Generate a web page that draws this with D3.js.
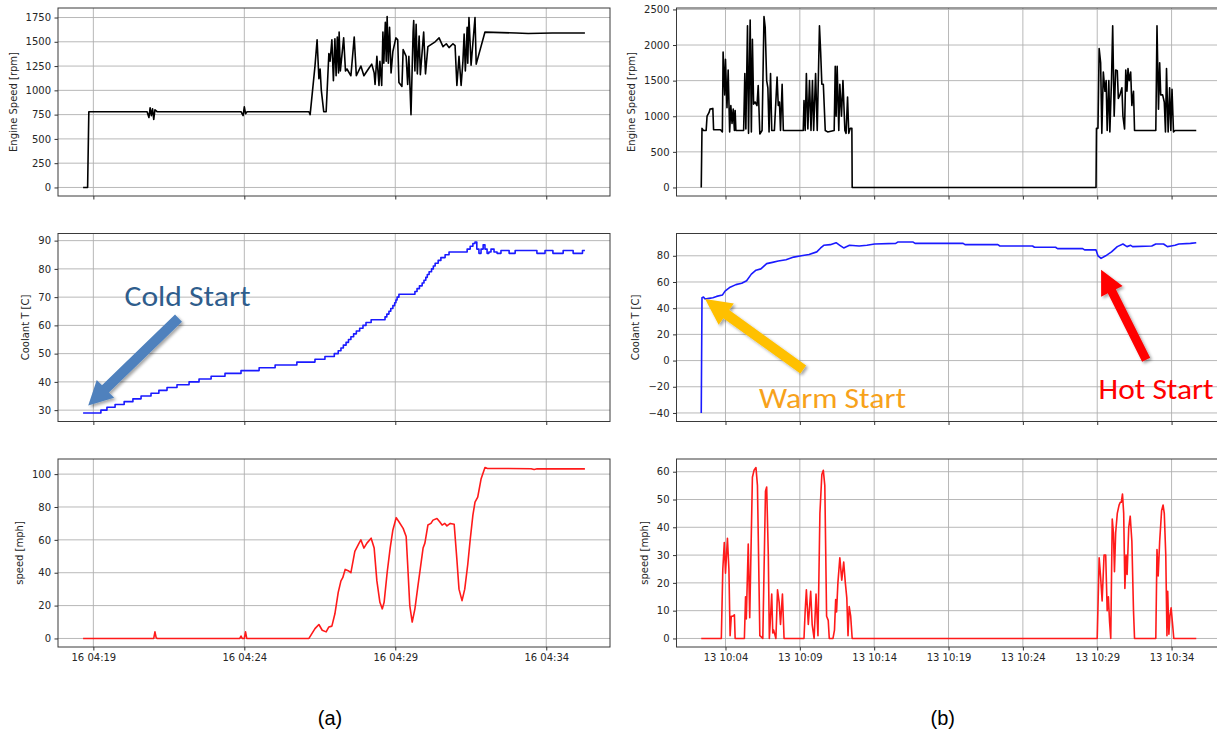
<!DOCTYPE html>
<html>
<head>
<meta charset="utf-8">
<title>Cold, warm and hot engine starts</title>
<style>
  body { margin: 0; background: #fff; }
  svg text { font-family: "DejaVu Sans", sans-serif; }
</style>
</head>
<body>
<svg id="chart" width="1217" height="731"></svg>
<script src="https://d3js.org/d3.v7.min.js"></script>
<script>
// (a) trip on the 16th, times are minutes after 04:00
let aRpm = [[18.66,0],[18.81,0],[18.85,780],[20.78,780],[20.84,720],[20.88,820],[20.92,740],[20.96,810],[21.00,700],[21.04,800],[21.11,780],
  [23.89,780],[23.96,740],[24.00,830],[24.04,760],[24.09,780],[26.14,780],[26.18,750],[26.34,1250],[26.41,1520],[26.47,1120],[26.51,1220],
  [26.55,1000],[26.63,780],[26.71,780],[26.80,1380],[26.84,1300],[26.90,1520],[26.95,1100],[27.00,1530],[27.04,1150],[27.08,1550],[27.12,1180],
  [27.14,1600],[27.18,1200],[27.29,1540],[27.35,1200],[27.40,1220],[27.53,1150],[27.64,1550],[27.71,1150],[27.86,1250],[27.96,1150],[28.13,1230],
  [28.22,1270],[28.30,1180],[28.33,1060],[28.39,1350],[28.46,1050],[28.49,1300],[28.55,1050],[28.59,1600],[28.62,1280],[28.67,1700],[28.70,1300],
  [28.73,1760],[28.77,1280],[28.81,1650],[28.86,1180],[28.92,1400],[29.02,1540],[29.08,1520],[29.12,1080],[29.22,1040],[29.26,1420],[29.36,1350],
  [29.41,1060],[29.45,1350],[29.52,750],[29.59,1600],[29.61,1720],[29.65,1200],[29.69,1680],[29.73,1170],[29.79,1560],[29.83,1160],[29.94,1600],
  [30.00,1170],[30.08,1450],[30.32,1500],[30.45,1540],[30.58,1450],[30.69,1480],[30.78,1440],[30.91,1480],[30.98,1460],[31.04,1050],[31.11,1350],
  [31.18,1050],[31.24,1300],[31.28,1580],[31.32,1200],[31.38,1650],[31.40,1280],[31.44,1750],[31.51,1260],[31.64,1750],[31.68,1270],[31.97,1600],
  [33.00,1590],[33.40,1585],[34.20,1590],[35.28,1590]]

let aTemp = [[18.66,29],[19.25,30],[19.45,31],[19.72,32],[20.02,33],[20.31,34],[20.58,35],[20.91,36],[21.17,37],[21.44,38],[21.77,39],[22.17,40],
  [22.50,41],[22.90,42],[23.36,43],[23.89,44],[24.49,45],[25.02,46],[25.74,47],[26.34,48],[26.67,49],[26.98,50],[27.11,51],[27.20,52],[27.28,53],
  [27.37,54],[27.45,55],[27.53,56],[27.62,57],[27.71,58],[27.82,59],[27.93,60],[28.03,61],[28.20,62],[28.66,63],[28.72,64],[28.79,65],[28.85,66],
  [28.92,67],[28.98,68],[29.02,69],[29.06,70],[29.12,71],[29.65,72],[29.72,73],[29.80,74],[29.89,75],[29.95,76],[30.01,77],[30.06,78],[30.12,79],
  [30.20,80],[30.26,81],[30.32,82],[30.42,83],[30.51,84],[30.65,85],[30.78,86],[31.38,87],[31.48,88],[31.57,89],[31.64,89.5],[31.70,87],
  [31.77,85.5],[31.84,87],[31.91,88.5],[31.97,87],[32.04,85.5],[32.10,86],[32.17,87],[32.27,86],[32.37,85.5],[32.50,86.5],[32.77,85.5],
  [32.97,86.5],[33.69,85.5],[33.96,86.5],[34.22,85.5],[34.56,86.5],[34.89,85.5],[35.20,86.5],[35.28,86.5]]

let aSpeed = [[18.66,0],[21.00,0],[21.04,4],[21.08,0.5],[21.11,0],[23.85,0],[23.89,1.5],[23.93,0],[24.00,0],[24.04,4],[24.08,0],[26.14,0],
  [26.34,6],[26.47,8.5],[26.58,5],[26.71,4],[26.80,7],[26.90,7.5],[27.00,15],[27.11,28],[27.20,35],[27.26,37],[27.34,42],[27.46,41],[27.53,40],
  [27.66,53],[27.80,58],[27.86,60],[27.96,55],[28.06,58],[28.20,61],[28.30,55],[28.39,35],[28.49,22],[28.57,18],[28.63,22],[28.73,40],[28.83,55],
  [28.92,66],[29.03,73.5],[29.12,71],[29.26,67],[29.36,62],[29.41,45],[29.48,20],[29.56,10],[29.65,18],[29.75,32],[29.81,40],[29.92,55],
  [29.98,58],[30.08,69],[30.18,70],[30.25,72],[30.38,73],[30.47,71],[30.55,69],[30.64,70],[30.71,68.5],[30.82,70],[30.95,69.5],[31.04,48],
  [31.11,30],[31.21,23],[31.30,30],[31.40,45],[31.48,60],[31.57,75],[31.64,83],[31.73,86],[31.84,97],[31.97,104],[32.04,103.5],[33.50,103.3],
  [33.60,102.8],[33.70,103.3],[35.28,103.2]]

// (b) trip on the 13th, times are minutes after 10:00
let bRpm = [[2.37,0],[2.42,830],[2.52,800],[2.70,800],[2.76,1000],[2.89,1050],[2.96,1100],[3.15,1110],[3.20,810],[3.66,810],[3.79,780],
  [3.84,1900],[3.95,1300],[4.00,1800],[4.10,1120],[4.18,1650],[4.28,780],[4.36,1150],[4.44,900],[4.52,1100],[4.60,800],[4.65,1080],[4.70,800],
  [5.22,800],[5.30,1600],[5.37,820],[5.48,2270],[5.55,760],[5.66,2350],[5.74,780],[5.81,2080],[5.89,1170],[5.99,1200],[6.12,1150],[6.20,1430],
  [6.31,750],[6.46,800],[6.59,2400],[6.67,2250],[6.77,1500],[6.85,1400],[6.93,780],[7.03,1600],[7.11,800],[7.29,800],[7.47,1550],[7.55,1150],
  [7.63,1200],[7.70,800],[7.81,1450],[7.89,800],[9.23,800],[9.28,1220],[9.36,800],[9.44,1600],[9.54,820],[9.65,1500],[9.75,800],[9.85,1500],
  [9.93,800],[10.06,1600],[10.17,800],[10.32,2270],[10.40,1900],[10.48,1450],[10.58,1450],[10.71,800],[10.87,780],[11.31,800],[11.38,1700],
  [11.44,1000],[11.51,1700],[11.62,800],[11.69,1450],[11.80,1000],[11.90,1500],[12.03,800],[12.11,760],[12.21,1270],[12.29,760],[12.39,830],
  [12.50,830],[12.52,0],[28.92,0],[28.95,830],[29.05,830],[29.13,1950],[29.23,1750],[29.31,760],[29.41,1620],[29.52,1350],[29.60,1500],
  [29.67,800],[29.78,1500],[29.85,780],[29.96,1500],[30.04,2270],[30.14,1000],[30.24,1650],[30.35,1640],[30.42,1250],[30.53,1300],[30.66,1400],
  [30.73,1000],[30.84,820],[30.92,1650],[31.00,1350],[31.07,1670],[31.15,1500],[31.25,1620],[31.33,1150],[31.44,1350],[31.51,800],[32.94,800],
  [33.02,2270],[33.12,1100],[33.20,1750],[33.27,1300],[33.40,1300],[33.51,1200],[33.59,780],[33.66,1670],[33.77,780],[33.87,1400],[33.95,800],
  [34.03,1380],[34.13,780],[34.23,800],[35.66,800]]

let bTemp = [[2.37,-40],[2.42,48],[2.52,48.5],[2.63,47],[2.89,47.5],[3.15,48],[3.40,49],[3.79,50],[3.97,53],[4.31,56],[4.70,58],[5.09,59],
  [5.42,61],[5.74,66],[6.05,69],[6.38,70],[6.77,74],[7.16,75],[7.55,76],[8.07,77],[8.59,79],[9.10,80],[9.62,81],[10.14,83],[10.40,86],[10.61,88],
  [11.05,88.5],[11.44,90],[11.69,88],[11.95,86],[12.34,88],[12.99,87.5],[13.51,88],[14.03,89],[15.45,89.5],[15.58,90.5],[16.62,90.5],[16.75,89.5],
  [19.98,89.5],[20.11,88.5],[22.32,88.5],[22.45,87.5],[24.65,87.5],[24.78,86.5],[26.20,86.5],[26.33,85.5],[28.02,85.5],[28.15,84.5],[28.92,84.5],
  [29.05,80],[29.26,78],[29.57,80],[29.96,83],[30.35,87],[30.73,89],[31.00,87],[31.25,88],[31.38,87],[32.67,87.5],[32.94,89],[33.46,89],
  [33.72,87],[33.97,87.5],[34.23,88],[34.49,89],[35.27,89.5],[35.66,90]]

let bSpeed = [[2.37,0],[3.72,0],[3.82,25],[3.92,34.5],[4.00,23.5],[4.13,36],[4.23,25],[4.31,1],[4.39,8],[4.49,8],[4.60,8.5],[4.65,0],[5.27,0],
  [5.35,15],[5.40,7],[5.53,34],[5.63,7.5],[5.81,58],[5.92,60.5],[6.05,61.5],[6.15,55],[6.31,1],[6.51,0],[6.69,53],[6.77,54.5],[6.88,30],
  [6.95,0],[7.03,8],[7.11,16],[7.18,2],[7.24,3],[7.39,0],[7.50,17.5],[7.61,13],[7.70,5],[7.83,16],[7.94,0],[9.28,0],[9.36,10],[9.44,17.5],
  [9.57,5],[9.73,17],[9.83,5],[9.96,0],[10.09,16],[10.22,1],[10.35,45],[10.48,59],[10.58,60.5],[10.68,55],[10.80,8],[10.91,6.5],[10.98,0],
  [11.23,0],[11.33,3],[11.41,14],[11.47,9.5],[11.56,20],[11.69,29],[11.82,21],[11.95,27.5],[12.06,20],[12.16,14.5],[12.24,1],[12.32,11.5],
  [12.42,8],[12.52,0],[29.00,0],[29.13,29],[29.23,22],[29.33,13.5],[29.46,30],[29.57,30],[29.67,10],[29.75,15],[29.83,6],[29.91,0],[30.01,43],
  [30.09,38],[30.16,24],[30.24,38],[30.35,45],[30.47,48],[30.55,49],[30.62,49],[30.70,52],[30.78,45],[30.86,18],[30.94,30],[31.01,23],
  [31.12,40],[31.22,44],[31.33,35],[31.44,10],[31.51,0],[32.94,0],[33.02,32],[33.10,22.5],[33.20,35],[33.33,46],[33.43,48],[33.51,45],
  [33.61,30],[33.69,1],[33.74,17],[33.82,1.5],[33.89,8],[33.97,11],[34.07,5],[34.15,0],[35.66,0]]

// tick labels
let aTimeTicks = ["16 04:19", "16 04:24", "16 04:29", "16 04:34"]
let bTimeTicks = ["13 10:04", "13 10:09", "13 10:14", "13 10:19", "13 10:24", "13 10:29", "13 10:34"]
let aRpmTicks = [0, 250, 500, 750, 1000, 1250, 1500, 1750]
let bRpmTicks = [0, 500, 1000, 1500, 2000, 2500]
let aTempTicks = [30, 40, 50, 60, 70, 80, 90]
let bTempTicks = [-40, -20, 0, 20, 40, 60, 80]
let aSpeedTicks = [0, 20, 40, 60, 80, 100]
let bSpeedTicks = [0, 10, 20, 30, 40, 50, 60]

let svg = d3.select("#chart")
let fmt = d3.timeFormat("%d %H:%M")

let shadow = svg.append("defs").append("filter").attr("id", "shadow")
    .attr("x", "-20%").attr("y", "-20%").attr("width", "140%").attr("height", "140%")
shadow.append("feDropShadow").attr("dx", 2).attr("dy", 2).attr("stdDeviation", 1.8)
    .attr("flood-color", "#000").attr("flood-opacity", 0.35)

let tops = [8, 233.5, 459]
let panelH = 188
let rows = [
    {name: "Engine Speed [rpm]", color: "#000000"},
    {name: "Coolant T [C]", color: "#1a1aff"},
    {name: "speed [mph]", color: "#ff1a1a"}
]
let columns = [
    {x0: 58, x1: 610, base: new Date(2019, 0, 16, 4, 0), ym: "2019-01 ", ticks: aTimeTicks, label: "(a)",
     series: [aRpm, aTemp, aSpeed], yTicks: [aRpmTicks, aTempTicks, aSpeedTicks], step: [false, true, false]},
    {x0: 676.5, x1: 1221, base: new Date(2019, 0, 13, 10, 0), ym: "2019-01 ", ticks: bTimeTicks, label: "(b)",
     series: [bRpm, bTemp, bSpeed], yTicks: [bRpmTicks, bTempTicks, bSpeedTicks], step: [false, false, false]}
]

let parseTick = d3.timeParse("%Y-%m %d %H:%M")
let scales = []

columns.forEach((col, ci) => {
    let toDate = m => new Date(+col.base + m * 60000)
    let allT = col.series.flat().map(d => d[0])
    let [t0, t1] = d3.extent(allT)
    let tp = (t1 - t0) * 0.05
    let x = d3.scaleTime()
        .domain([toDate(t0 - tp), toDate(t1 + tp)])
        .range([col.x0, col.x1])
    let tickDates = col.ticks.map(s => parseTick(col.ym + s))
    scales[ci] = []

    col.series.forEach((data, ri) => {
        let top = tops[ri]
        let bottom = top + panelH
        let [v0, v1] = d3.extent(data, d => d[1])
        let vp = (v1 - v0) * 0.05
        let y = d3.scaleLinear().domain([v0 - vp, v1 + vp]).range([bottom, top])
        scales[ci][ri] = {x, y, toDate}

        let g = svg.append("g")

        // grid
        g.selectAll(".vgrid").data(tickDates).enter().append("line")
            .attr("x1", d => x(d)).attr("x2", d => x(d))
            .attr("y1", top).attr("y2", bottom)
            .attr("stroke", "#b0b0b0").attr("stroke-width", 0.9)
        g.selectAll(".hgrid").data(col.yTicks[ri]).enter().append("line")
            .attr("x1", col.x0).attr("x2", col.x1)
            .attr("y1", d => y(d)).attr("y2", d => y(d))
            .attr("stroke", "#b0b0b0").attr("stroke-width", 0.9)

        // series line
        let line = d3.line()
            .x(d => x(toDate(d[0])))
            .y(d => y(d[1]))
            .curve(col.step[ri] ? d3.curveStepAfter : d3.curveLinear)
        g.append("path")
            .attr("d", line(data))
            .attr("fill", "none")
            .attr("stroke", rows[ri].color)
            .attr("stroke-width", 1.6)
            .attr("stroke-linejoin", "round")

        // frame
        g.append("rect")
            .attr("x", col.x0).attr("y", top)
            .attr("width", col.x1 - col.x0).attr("height", panelH)
            .attr("fill", "none").attr("stroke", "#3a3a3a").attr("stroke-width", 1)

        // axes
        let yAxis = g.append("g")
            .attr("transform", `translate(${col.x0},0)`)
            .call(d3.axisLeft(y).tickValues(col.yTicks[ri]).tickSize(3.5).tickPadding(3.5)
                .tickFormat(d => d < 0 ? "\u2212" + Math.abs(d) : d))
        let xAxis = g.append("g")
            .attr("transform", `translate(0,${bottom})`)
            .call(d3.axisBottom(x).tickValues(tickDates).tickSize(3.5).tickPadding(3.5)
                .tickFormat(ri == 2 ? fmt : ""))
        g.selectAll(".domain").remove()
        g.selectAll(".tick line").attr("stroke", "#333")
        g.selectAll(".tick text").attr("fill", "#262626")
            .style("font-family", "DejaVu Sans").style("font-size", "10px")

        let box = yAxis.node().getBBox()
        g.append("text")
            .attr("transform", `translate(${col.x0 + box.x - 9},${top + panelH / 2}) rotate(-90)`)
            .attr("text-anchor", "middle")
            .attr("fill", "#262626")
            .style("font-size", "10px")
            .text(rows[ri].name)
    })

    svg.append("text")
        .attr("x", (col.x0 + Math.min(col.x1, 1217)) / 2 - 4)
        .attr("y", 725)
        .attr("text-anchor", "middle")
        .style("font-family", "Liberation Sans")
        .style("font-size", "20px")
        .attr("fill", "#000")
        .text(col.label)
})

// annotations, placed in data units of the coolant panels
let notes = [
    {col: 0, text: "Cold Start", color: "#2f5d8c", arrow: "#4f81bd", tT: 22.12, tV: 66.9, anchor: "middle", len: 126,
     fromT: 21.82, fromV: 62.6, toT: 18.83, toV: 31.6, shaft: 10, head: 25, headLen: 24},
    {col: 1, text: "Warm Start", color: "#f7a21b", arrow: "#ffc000", tT: 11.2, tV: -36.2, anchor: "middle", len: 147,
     fromT: 9.23, fromV: -6.8, toT: 2.63, toV: 47.0, shaft: 10, head: 26, headLen: 26},
    {col: 1, text: "Hot Start", color: "#ff0000", arrow: "#ff0000", tT: 29.09, tV: -29.7, anchor: "start", len: 115,
     fromT: 32.29, fromV: 0.7, toT: 29.26, toV: 69.3, shaft: 9, head: 24, headLen: 24}
]

function arrowShape(x1, y1, x2, y2, sw, hw, hl) {
    let dx = x2 - x1, dy = y2 - y1
    let L = Math.hypot(dx, dy)
    let ux = dx / L, uy = dy / L
    let px = -uy, py = ux
    let bx = x2 - ux * hl, by = y2 - uy * hl
    return [
        [x1 + px * sw / 2, y1 + py * sw / 2],
        [bx + px * sw / 2, by + py * sw / 2],
        [bx + px * hw / 2, by + py * hw / 2],
        [x2, y2],
        [bx - px * hw / 2, by - py * hw / 2],
        [bx - px * sw / 2, by - py * sw / 2],
        [x1 - px * sw / 2, y1 - py * sw / 2]
    ]
}

notes.forEach(n => {
    let s = scales[n.col][1]
    let pts = arrowShape(s.x(s.toDate(n.fromT)), s.y(n.fromV), s.x(s.toDate(n.toT)), s.y(n.toV), n.shaft, n.head, n.headLen)
    svg.append("path")
        .attr("d", "M" + pts.join("L") + "Z")
        .attr("fill", n.arrow)
        .attr("filter", "url(#shadow)")
    svg.append("text")
        .attr("x", s.x(s.toDate(n.tT)))
        .attr("y", s.y(n.tV))
        .attr("text-anchor", n.anchor)
        .attr("textLength", n.len)
        .attr("lengthAdjust", "spacingAndGlyphs")
        .style("font-family", "Carlito, Lato, sans-serif")
        .style("font-size", "29px")
        .attr("fill", n.color)
        .text(n.text)
})
</script>
</body>
</html>
